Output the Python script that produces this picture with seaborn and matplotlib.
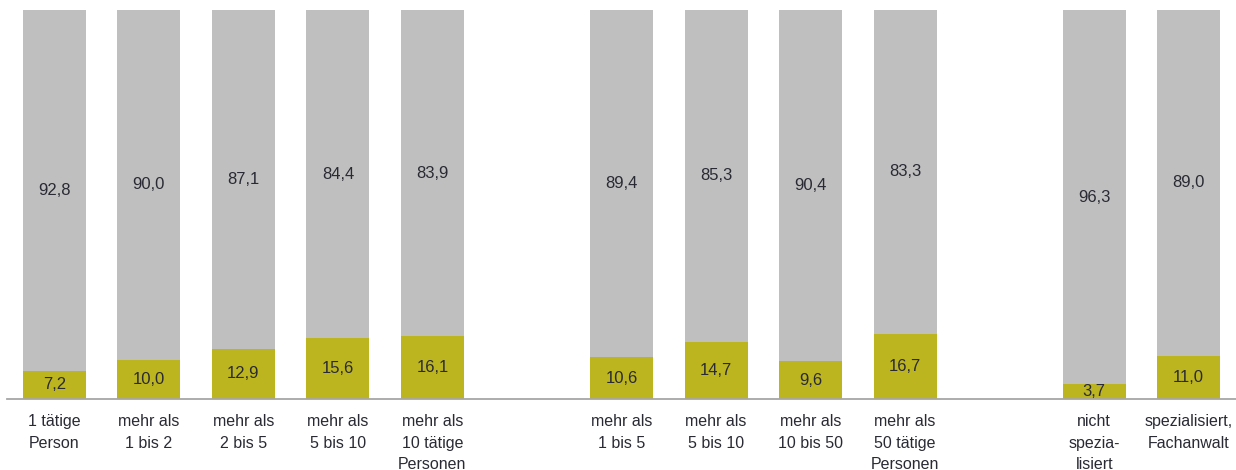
import pandas as pd
import seaborn as sns
import matplotlib
matplotlib.use('Agg')
import matplotlib.pyplot as plt

# Data
categories = ['1 tätige\nPerson', 'mehr als\n1 bis 2', 'mehr als\n2 bis 5', 'mehr als\n5 bis 10',
              'mehr als\n10 tätige\nPersonen',
              'mehr als\n1 bis 5', 'mehr als\n5 bis 10', 'mehr als\n10 bis 50',
              'mehr als\n50 tätige\nPersonen',
              'nicht\nspezia-\nlisiert', 'spezialisiert,\nFachanwalt']
positions = [0, 1, 2, 3, 4, 6, 7, 8, 9, 11, 12]
olive_vals = [7.2, 10.0, 12.9, 15.6, 16.1, 10.6, 14.7, 9.6, 16.7, 3.7, 11.0]
gray_vals = [92.8, 90.0, 87.1, 84.4, 83.9, 89.4, 85.3, 90.4, 83.3, 96.3, 89.0]

GRAY = '#BFBFBF'
OLIVE = '#BDB51F'
TEXT = '#2a2a35'

sns.set_style('white')
plt.rcParams['font.family'] = ['Liberation Sans', 'DejaVu Sans']

df = pd.DataFrame({'pos': positions, 'olive': olive_vals, 'gray': gray_vals})
df['total'] = df['olive'] + df['gray']

fig = plt.figure(figsize=(12.36, 4.70), dpi=100)
ax = fig.add_axes([7 / 1236, 0.1517, 1 - 7 / 1236, 0.827])

# gray stacked on top: draw full height first, then olive part
sns.barplot(data=df, x='pos', y='total', native_scale=True, color=GRAY, width=0.667,
            saturation=1, ax=ax, linewidth=0)
sns.barplot(data=df, x='pos', y='olive', native_scale=True, color=OLIVE, width=0.667,
            saturation=1, ax=ax, linewidth=0)

# value labels in the middle of each segment
for p, o, g in zip(positions, olive_vals, gray_vals):
    ax.text(p, o / 2, f'{o:.1f}'.replace('.', ','), ha='center', va='center',
            fontsize=12, color=TEXT)
    ax.text(p, o + g / 2, f'{g:.1f}'.replace('.', ','), ha='center', va='center',
            fontsize=12, color=TEXT)

ax.set_xlim(-0.5, 12.5)
ax.set_ylim(0, 100)
ax.set_xticks(positions)
ax.set_xticklabels(categories, fontsize=11.5, color=TEXT, linespacing=1.55)
ax.tick_params(axis='x', length=0, pad=11)
ax.set_yticks([])
ax.set_xlabel('')
ax.set_ylabel('')
for s in ['top', 'right', 'left']:
    ax.spines[s].set_visible(False)
ax.spines['bottom'].set_color('#A6A6A6')
ax.spines['bottom'].set_linewidth(1.3)

fig.savefig('out.png', dpi=100)
